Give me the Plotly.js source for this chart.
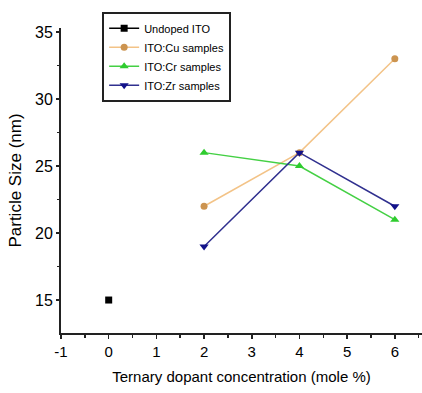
<!DOCTYPE html>
<html><head><meta charset="utf-8">
<script src="https://cdn.plot.ly/plotly-3.0.1.min.js"></script>
<style>html,body{margin:0;padding:0;background:#fff;}#c{width:422px;height:393px;}</style>
</head><body><div id="c"></div>
<script>
const undopedX = [0];
const undopedY = [15];
const dopantX = [2, 4, 6];
const cuY = [22, 26, 33];
const crY = [26, 25, 21];
const zrY = [19, 26, 22];
const xTicks = [-1, 0, 1, 2, 3, 4, 5, 6];
const yTicks = [15, 20, 25, 30, 35];

const font = "Liberation Sans, Arial, sans-serif";
const traces = [
  {x: undopedX, y: undopedY, name: 'Undoped ITO', mode: 'lines+markers',
   line: {color: '#000', width: 1.5}, marker: {symbol: 'square', size: 7, color: '#000'}},
  {x: dopantX, y: cuY, name: 'ITO:Cu samples', mode: 'lines+markers',
   line: {color: '#F3C387', width: 1.5}, marker: {symbol: 'circle', size: 7, color: '#CC9450'}},
  {x: dopantX, y: crY, name: 'ITO:Cr samples', mode: 'lines+markers',
   line: {color: '#44D044', width: 1.5}, marker: {symbol: 'triangle-up', size: 8, color: '#2ECC2E'}},
  {x: dopantX, y: zrY, name: 'ITO:Zr samples', mode: 'lines+markers',
   line: {color: '#30308F', width: 1.5}, marker: {symbol: 'triangle-down', size: 8, color: '#12128A'}}
];

const layout = {
  width: 422, height: 393,
  margin: {l: 61, r: 0, t: 28, b: 60},
  paper_bgcolor: '#fff', plot_bgcolor: '#fff',
  font: {family: font, color: '#000'},
  showlegend: true,
  legend: {x: 0.114, y: 1.053, xanchor: 'left', yanchor: 'top',
    bordercolor: '#222', borderwidth: 2, bgcolor: '#fff',
    font: {size: 11, family: font}, tracegroupgap: 0, itemwidth: 30},
  xaxis: {range: [-1, 6.57], tickvals: xTicks, ticktext: xTicks.map(String),
    showgrid: false, zeroline: false, showline: true, linecolor: '#222', linewidth: 2,
    ticks: 'outside', ticklen: 4, tickwidth: 1.5, tickcolor: '#222',
    tickfont: {size: 15},
    minor: {dtick: 0.5, tick0: -1, ticks: 'outside', ticklen: 3, tickcolor: '#222'},
    title: {text: 'Ternary dopant concentration (mole %)', font: {size: 15}, standoff: 12}},
  yaxis: {range: [12.54, 35.3], tickvals: yTicks, ticktext: yTicks.map(String),
    showgrid: false, zeroline: false, showline: true, linecolor: '#222', linewidth: 2,
    ticks: 'outside', ticklen: 3, tickwidth: 1.5, tickcolor: '#222',
    tickfont: {size: 16},
    minor: {dtick: 2.5, tick0: 15, ticks: 'outside', ticklen: 2, tickcolor: '#222'},
    title: {text: 'Particle Size (nm)', font: {size: 17}, standoff: 9}}
};
Plotly.newPlot('c', traces, layout, {displayModeBar: false, staticPlot: true});
</script></body></html>
